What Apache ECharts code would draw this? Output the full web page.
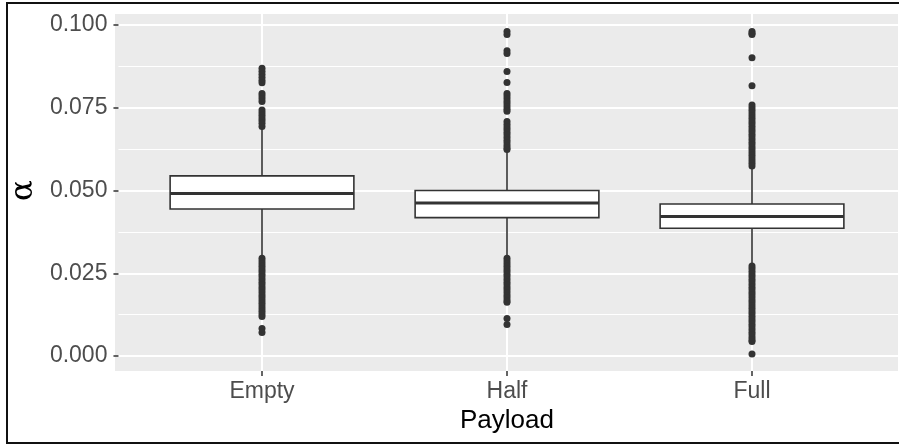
<!DOCTYPE html>
<html>
<head>
<meta charset="utf-8">
<script src="https://cdn.jsdelivr.net/npm/echarts@6.0.0/dist/echarts.min.js"></script>
<style>
  html, body { margin: 0; padding: 0; background: #fff; }
  #chart { width: 899px; height: 444px; }
</style>
</head>
<body>
<div id="chart"></div>
<script>
const categories = ['Empty', 'Half', 'Full'];

// [lower whisker, Q1, median, Q3, upper whisker]
const boxStats = [
  [0.0300, 0.0444, 0.0491, 0.0544, 0.0688],
  [0.0300, 0.0418, 0.0462, 0.0500, 0.0618],
  [0.0278, 0.0386, 0.0421, 0.0459, 0.0567]
];

const emptyOutliers = [
  0.0869, 0.0860, 0.0851, 0.0842, 0.0833, 0.0825,
  0.0793, 0.0785, 0.0777, 0.0769,
  0.0743, 0.0735, 0.0727, 0.0719, 0.0711, 0.0703, 0.0693,
  0.0295, 0.0287, 0.0279, 0.0271, 0.0263, 0.0255, 0.0247, 0.0239, 0.0231, 0.0223,
  0.0215, 0.0207, 0.0199, 0.0191, 0.0183, 0.0175, 0.0167, 0.0159, 0.0151, 0.0143,
  0.0135, 0.0127, 0.0119,
  0.0083, 0.0071
];

const halfOutliers = [
  0.0980, 0.0971, 0.0922, 0.0914, 0.0859, 0.0826,
  0.0793, 0.0785, 0.0777, 0.0769, 0.0761, 0.0753, 0.0745, 0.0739,
  0.0708, 0.0700, 0.0692, 0.0684, 0.0676, 0.0668, 0.0660, 0.0652, 0.0644, 0.0636,
  0.0628, 0.0624,
  0.0295, 0.0287, 0.0279, 0.0271, 0.0263, 0.0255, 0.0247, 0.0239, 0.0231, 0.0223,
  0.0215, 0.0207, 0.0199, 0.0191, 0.0183, 0.0175, 0.0167, 0.0162,
  0.0113, 0.0095
];

const fullOutliers = [
  0.0980, 0.0975, 0.0971, 0.0901, 0.0816,
  0.0758, 0.0750, 0.0742, 0.0734, 0.0726, 0.0718, 0.0710, 0.0702, 0.0694, 0.0686,
  0.0678, 0.0670, 0.0662, 0.0654, 0.0646, 0.0638, 0.0630, 0.0622, 0.0614, 0.0606,
  0.0598, 0.0590, 0.0582, 0.0574,
  0.0272, 0.0264, 0.0256, 0.0248, 0.0240, 0.0232, 0.0224, 0.0216, 0.0208, 0.0200,
  0.0192, 0.0184, 0.0176, 0.0168, 0.0160, 0.0152, 0.0144, 0.0136, 0.0128, 0.0120,
  0.0112, 0.0104, 0.0096, 0.0088, 0.0080, 0.0072, 0.0064, 0.0056, 0.0048, 0.0044,
  0.0006
];

const outlierData = [];
[emptyOutliers, halfOutliers, fullOutliers].forEach((list, i) => {
  list.forEach(v => outlierData.push([i, v]));
});

const font = '"Liberation Sans", Arial, sans-serif';
const chart = echarts.init(document.getElementById('chart'));

chart.setOption({
  animation: false,
  backgroundColor: '#fff',
  grid: [
    // panel background
    { left: 115, right: 1, top: 14, bottom: 73, show: true, backgroundColor: '#ebebeb', borderWidth: 0 },
    // y scale, labels and horizontal grid lines
    { left: 115, right: 1, top: 25, bottom: 88 },
    // data
    { left: 262, right: 147, top: 14, bottom: 73 }
  ],
  xAxis: [
    { gridIndex: 0, type: 'value', min: 0, max: 1, show: false },
    { gridIndex: 1, type: 'value', min: 0, max: 1, show: false },
    {
      gridIndex: 2,
      type: 'category',
      data: categories,
      boundaryGap: false,
      axisLine: { show: false, onZero: false },
      axisTick: { show: true, length: 5, lineStyle: { color: '#333', width: 1.5 } },
      axisLabel: { color: '#4d4d4d', fontSize: 23, fontFamily: font, margin: 9 },
      splitLine: { show: true, lineStyle: { color: '#fff', width: 2 } },
      name: 'Payload',
      nameLocation: 'middle',
      nameGap: 37,
      nameTextStyle: { color: '#000', fontSize: 26, fontFamily: font }
    }
  ],
  yAxis: [
    { gridIndex: 0, type: 'value', min: 0, max: 1, show: false },
    {
      gridIndex: 1,
      type: 'value',
      min: 0,
      max: 0.1,
      interval: 0.025,
      axisLine: { show: false },
      axisTick: { show: true, length: 5, lineStyle: { color: '#333', width: 1.5 } },
      axisLabel: {
        color: '#4d4d4d', fontSize: 23, fontFamily: font, margin: 11,
        formatter: v => v.toFixed(3)
      },
      splitLine: { show: true, lineStyle: { color: '#fff', width: 2 } },
      minorTick: { show: false, splitNumber: 2 },
      minorSplitLine: { show: true, lineStyle: { color: '#fff', width: 1 } },
      name: 'α',
      nameLocation: 'middle',
      nameRotate: 90,
      nameGap: 76,
      nameTextStyle: { color: '#000', fontSize: 31, fontFamily: '"DejaVu Serif", serif' }
    },
    { gridIndex: 2, type: 'value', min: -0.00453, max: 0.1033, show: false }
  ],
  series: [
    {
      type: 'custom',
      xAxisIndex: 2,
      yAxisIndex: 2,
      z: 3,
      data: boxStats.map((s, i) => [i].concat(s)),
      encode: { x: 0, y: [1, 2, 3, 4, 5] },
      renderItem: function (params, api) {
        const x = api.value(0);
        const lo = api.coord([x, api.value(1)]);
        const q1 = api.coord([x, api.value(2)]);
        const med = api.coord([x, api.value(3)]);
        const q3 = api.coord([x, api.value(4)]);
        const hi = api.coord([x, api.value(5)]);
        const half = api.size([1, 0])[0] * 0.375;
        const stroke = { stroke: '#333', lineWidth: 1.6 };
        return {
          type: 'group',
          children: [
            { type: 'line', shape: { x1: lo[0], y1: lo[1], x2: q1[0], y2: q1[1] }, style: stroke },
            { type: 'line', shape: { x1: q3[0], y1: q3[1], x2: hi[0], y2: hi[1] }, style: stroke },
            {
              type: 'rect',
              shape: { x: q3[0] - half, y: q3[1], width: half * 2, height: q1[1] - q3[1] },
              style: { fill: '#fff', stroke: '#333', lineWidth: 1.6 }
            },
            {
              type: 'line',
              shape: { x1: med[0] - half, y1: med[1], x2: med[0] + half, y2: med[1] },
              style: { stroke: '#333', lineWidth: 3 }
            }
          ]
        };
      }
    },
    {
      type: 'scatter',
      xAxisIndex: 2,
      yAxisIndex: 2,
      z: 4,
      symbolSize: 7,
      itemStyle: { color: '#333', opacity: 1 },
      data: outlierData
    }
  ],
  graphic: [
    {
      type: 'rect',
      z: 100,
      shape: { x: 7, y: 3, width: 900, height: 440 },
      style: { fill: 'none', stroke: '#111', lineWidth: 2 }
    }
  ]
});
</script>
</body>
</html>
